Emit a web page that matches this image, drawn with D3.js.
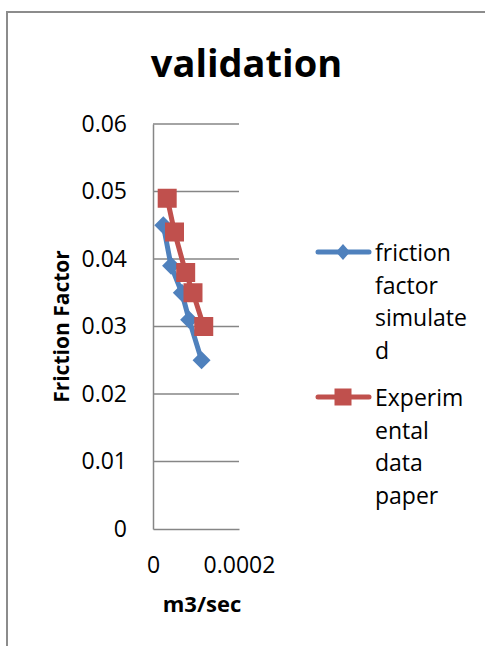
<!DOCTYPE html>
<html><head><meta charset="utf-8">
<script src="https://cdn.jsdelivr.net/npm/d3@7"></script>
<style>body{margin:0;background:#fff;} svg{display:block;} text{font-family:"Open Sans",sans-serif;fill:#000;}</style>
</head><body><svg id="c" width="485" height="646"></svg>
<script>
const title = "validation";
const xTitle = "m3/sec";
const yTitle = "Friction Factor";
const simLabel = ["friction", "factor", "simulate", "d"];
const expLabel = ["Experim", "ental", "data", "paper"];
const simX = [2.4e-5, 4.2e-5, 6.7e-5, 8.4e-5, 1.13e-4];
const simY = [0.045, 0.039, 0.035, 0.031, 0.025];
const expX = [3.3e-5, 5.0e-5, 7.6e-5, 9.3e-5, 1.18e-4];
const expY = [0.049, 0.044, 0.038, 0.035, 0.030];
const yTicks = [0, 0.01, 0.02, 0.03, 0.04, 0.05, 0.06];
const yTickLabels = ["0", "0.01", "0.02", "0.03", "0.04", "0.05", "0.06"];
const xTicks = [0, 0.0002];
const xTickLabels = ["0", "0.0002"];

const BLUE = "#4f81bd", RED = "#c0504d", GRID = "#868686";
const svg = d3.select("#c");

// outer frame (right/bottom edges lie outside the view)
svg.append("rect").attr("x", 7).attr("y", 12).attr("width", 600).attr("height", 700)
  .attr("fill", "none").attr("stroke", "#8c8c8c").attr("stroke-width", 2);

const L = 153, R = 239, T = 124, B = 529;
const x = d3.scaleLinear().domain([0, 0.0002]).range([L, R]);
const y = d3.scaleLinear().domain([0, 0.06]).range([B, T]);

// gridlines
svg.append("g").selectAll("line").data(yTicks.slice(1)).join("line")
  .attr("x1", L).attr("x2", R).attr("y1", d => y(d)).attr("y2", d => y(d))
  .attr("stroke", GRID).attr("stroke-width", 1.5);

// axes
const ya = svg.append("g").attr("transform", `translate(${L},0)`)
  .call(d3.axisLeft(y).tickValues(yTicks).tickSize(0).tickPadding(26)
    .tickFormat((d, i) => yTickLabels[i]));
ya.select(".domain").attr("stroke", GRID).attr("stroke-width", 1.5);
ya.selectAll("text").attr("font-size", 23).attr("font-family", "Open Sans").attr("fill", "#000");

const xa = svg.append("g").attr("transform", `translate(0,${B})`)
  .call(d3.axisBottom(x).tickValues(xTicks).tickSize(0).tickPadding(28)
    .tickFormat((d, i) => xTickLabels[i]));
xa.select(".domain").attr("stroke", GRID).attr("stroke-width", 1.5);
xa.selectAll("text").attr("font-size", 23).attr("font-family", "Open Sans").attr("fill", "#000");

// titles
svg.append("text").attr("x", 246.5).attr("y", 77).attr("text-anchor", "middle")
  .attr("font-size", 38).attr("font-weight", "bold").text(title);
svg.append("text").attr("x", 202).attr("y", 612).attr("text-anchor", "middle")
  .attr("font-size", 22).attr("font-weight", "bold").text(xTitle);
svg.append("text").attr("transform", `translate(69,${(T + B) / 2}) rotate(-90)`)
  .attr("text-anchor", "middle").attr("font-size", 21).attr("font-weight", "bold").text(yTitle);

// series
const line = d3.line().x(d => x(d[0])).y(d => y(d[1]));
const sim = simX.map((v, i) => [v, simY[i]]);
const exp = expX.map((v, i) => [v, expY[i]]);
const diamond = (cx, cy, r) => `M${cx},${cy - r}L${cx + r},${cy}L${cx},${cy + r}L${cx - r},${cy}Z`;

svg.append("path").datum(sim).attr("d", line).attr("fill", "none")
  .attr("stroke", BLUE).attr("stroke-width", 5).attr("stroke-linejoin", "round");
svg.append("g").selectAll("path").data(sim).join("path")
  .attr("d", d => diamond(x(d[0]), y(d[1]), 9)).attr("fill", BLUE);

svg.append("path").datum(exp).attr("d", line).attr("fill", "none")
  .attr("stroke", RED).attr("stroke-width", 5).attr("stroke-linejoin", "round");
svg.append("g").selectAll("rect").data(exp).join("rect")
  .attr("x", d => x(d[0]) - 9.5).attr("y", d => y(d[1]) - 9.5)
  .attr("width", 19).attr("height", 19).attr("fill", RED);

// legend
function legendItem(cy, color, marker, lines, baseline) {
  svg.append("line").attr("x1", 318).attr("x2", 369).attr("y1", cy).attr("y2", cy)
    .attr("stroke", color).attr("stroke-width", 5).attr("stroke-linecap", "round");
  if (marker === "diamond") {
    svg.append("path").attr("d", `M343,${cy - 8}L350,${cy}L343,${cy + 8}L336,${cy}Z`).attr("fill", color);
  } else {
    svg.append("rect").attr("x", 334.5).attr("y", cy - 8.5).attr("width", 17).attr("height", 17).attr("fill", color);
  }
  const t = svg.append("text").attr("x", 375).attr("y", baseline).attr("font-size", 23);
  lines.forEach((s, i) => t.append("tspan").attr("x", 375).attr("y", baseline + i * 32.5).text(s));
}
legendItem(252, BLUE, "diamond", simLabel, 261);
legendItem(397, RED, "square", expLabel, 406);
</script></body></html>
